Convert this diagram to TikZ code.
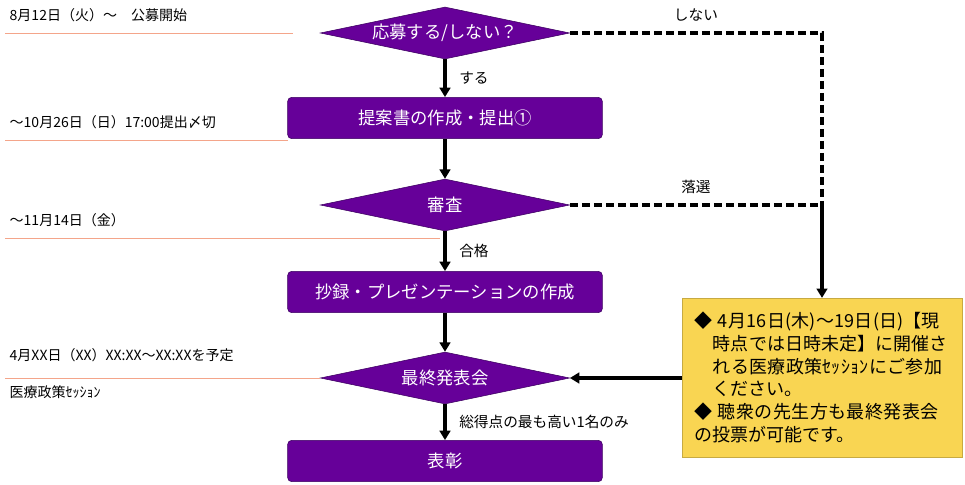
\documentclass[tikz,border=0pt]{standalone}
\usepackage{fontspec}
\setmainfont{Noto Sans CJK JP}
\XeTeXlinebreaklocale "ja"
\XeTeXlinebreakskip=0pt plus 1pt
\usetikzlibrary{shapes.geometric,arrows.meta}
\definecolor{mypurple}{HTML}{660099}
\definecolor{myedge}{HTML}{3C0060}
\definecolor{myyellow}{HTML}{F9D552}
\definecolor{myline}{HTML}{F4A58A}
\tikzset{
  stepbox/.style={rectangle, rounded corners=3pt, draw=myedge, fill=mypurple, text=white,
    minimum width=236pt, minimum height=31pt, font=\fontsize{13}{15}\selectfont},
  choice/.style={diamond, aspect=4.8, draw=myedge, fill=mypurple, text=white, inner sep=0pt,
    minimum width=187pt, minimum height=39pt, font=\fontsize{13}{15}\selectfont},
  flow/.style={line width=2.8pt, -{Triangle[length=7pt,width=8pt]}},
  reject/.style={line width=2.8pt, dash pattern=on 6pt off 3pt},
  datelabel/.style={anchor=west, font=\fontsize{10.5}{12}\selectfont},
  datelinestyle/.style={myline, line width=0.6pt},
  side/.style={font=\fontsize{11}{13}\selectfont}
}
\begin{document}
\begin{tikzpicture}[x=0.75pt,y=-0.75pt]
  \useasboundingbox (0,0) rectangle (965,485);

  \node[choice] (apply) at (445,33) {応募する/しない？};
  \node[stepbox] (write) at (445,118) {提案書の作成・提出①};
  \node[choice] (review) at (445,205) {審査};
  \node[stepbox] (slides) at (445,292) {抄録・プレゼンテーションの作成};
  \node[choice] (final) at (445,378) {最終発表会};
  \node[stepbox] (award) at (445,461) {表彰};

  \node[rectangle, fill=myyellow, draw=myyellow!80!black, minimum width=210pt, minimum height=119pt,
    text width=192pt, align=left, inner sep=6pt, font=\fontsize{13.5}{17}\selectfont] (note) at (822,377.5)
    {\hangindent=1.05em\hangafter=1 ◆ 4月16日(木)～19日(日)【現時点では日時未定】に開催される医療政策ｾｯｼｮﾝにご参加ください。\par
     ◆ 聴衆の先生方も最終発表会の投票が可能です。};

  % main flow
  \draw[flow] (apply) -- node[side, right=6pt] {する} (write);
  \draw[flow] (write) -- (review);
  \draw[flow] (review) -- node[side, right=6pt] {合格} (slides);
  \draw[flow] (slides) -- (final);
  \draw[flow] (final) -- node[side, right=6pt] {総得点の最も高い1名のみ} (award);

  % rejected / declined
  \coordinate (corner) at (822,33);
  \coordinate (join) at (822,205);
  \draw[reject] (apply.east) -- node[side, above=4pt] {しない} (corner) -- (join);
  \draw[reject] (review.east) -- node[side, above=4pt] {落選} (join);
  \draw[flow] (join) -- (note.north);
  \draw[flow] (note.west |- final) -- (final.east);

  % schedule
  \node[datelabel] (d1) at (5,15) {8月12日（火）～　公募開始};
  \node[datelabel] (d2) at (5,122) {～10月26日（日）17:00提出〆切};
  \node[datelabel] (d3) at (5,220) {～11月14日（金）};
  \node[datelabel] (d4) at (5,355) {4月XX日（XX）XX:XX～XX:XXを予定};
  \node[datelabel] (d5) at (5,392) {医療政策ｾｯｼｮﾝ};
  \draw[datelinestyle] (5,33) -- (293,33);
  \draw[datelinestyle] (5,140) -- (288,140);
  \draw[datelinestyle] (5,238) -- (440,238);
  \draw[datelinestyle] (5,378) -- (final.west);
\end{tikzpicture}
\end{document}
